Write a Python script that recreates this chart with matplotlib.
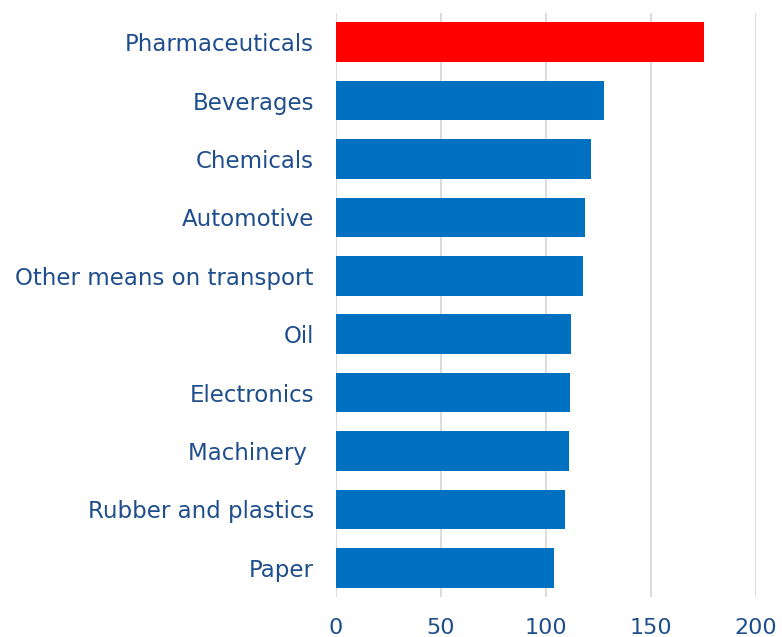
import matplotlib
matplotlib.use("Agg")
import matplotlib.pyplot as plt

industries = ["Pharmaceuticals", "Beverages", "Chemicals", "Automotive",
              "Other means on transport", "Oil", "Electronics", "Machinery ",
              "Rubber and plastics", "Paper"]
values = [175.2, 127.6, 121.6, 118.6, 117.4, 111.9, 111.2, 110.8, 108.9, 104.0]
highlight = "Pharmaceuticals"
x_ticks = [0, 50, 100, 150, 200]

text_col = "#1F4E8C"
colors = ["#FF0000" if n == highlight else "#0070C0" for n in industries]

fig = plt.figure(figsize=(7.82, 6.37), dpi=100)
ax = fig.add_axes([336 / 782, 1 - 597 / 637, (756 - 336) / 782, (597 - 13) / 637])

pos = list(range(len(industries)))
ax.barh(pos, values, height=0.68, color=colors, zorder=3)
ax.set_ylim(len(industries) - 0.5, -0.5)
ax.set_xlim(0, 200)
ax.set_yticks(pos)
ax.set_yticklabels(industries)
ax.set_xticks(x_ticks)

ax.grid(axis="x", color="#D9D9D9", linewidth=1.3, zorder=0)
for s in ax.spines.values():
    s.set_visible(False)
ax.tick_params(axis="y", length=0, pad=16, labelsize=16.5, labelcolor=text_col)
ax.tick_params(axis="x", length=0, pad=15, labelsize=16, labelcolor=text_col)

fig.savefig("out.png", dpi=100)
